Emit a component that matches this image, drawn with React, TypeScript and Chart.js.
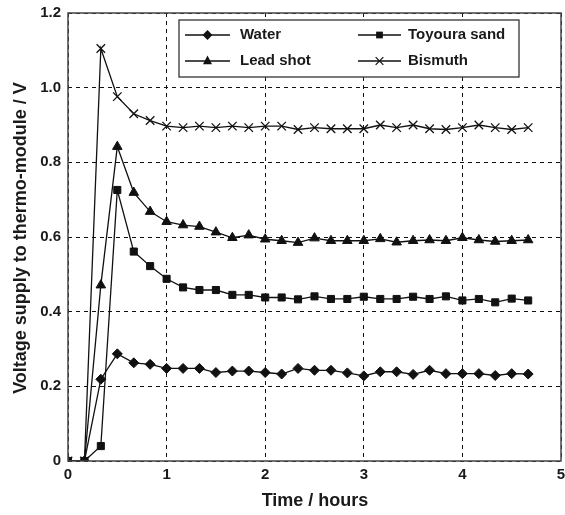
import React, { useEffect, useRef } from "react";
import { Chart, registerables } from "chart.js";
Chart.register(...registerables);

const timeHours = [0, 0.167, 0.333, 0.5, 0.667, 0.833, 1.0, 1.167, 1.333, 1.5, 1.667, 1.833, 2.0, 2.167, 2.333, 2.5, 2.667, 2.833, 3.0, 3.167, 3.333, 3.5, 3.667, 3.833, 4.0, 4.167, 4.333, 4.5, 4.667];
const water = [0, 0, 0.219, 0.287, 0.263, 0.259, 0.248, 0.248, 0.248, 0.237, 0.241, 0.241, 0.237, 0.233, 0.248, 0.243, 0.243, 0.236, 0.228, 0.239, 0.239, 0.232, 0.243, 0.234, 0.234, 0.234, 0.229, 0.234, 0.233];
const toyouraSand = [0, 0, 0.04, 0.726, 0.561, 0.522, 0.488, 0.465, 0.458, 0.458, 0.445, 0.445, 0.438, 0.438, 0.433, 0.441, 0.434, 0.434, 0.44, 0.434, 0.434, 0.44, 0.434, 0.441, 0.43, 0.434, 0.425, 0.435, 0.43];
const leadShot = [0, 0, 0.471, 0.842, 0.719, 0.668, 0.641, 0.632, 0.628, 0.613, 0.598, 0.605, 0.594, 0.59, 0.585, 0.597, 0.59, 0.59, 0.59, 0.595, 0.586, 0.59, 0.592, 0.59, 0.598, 0.592, 0.588, 0.59, 0.592];
const bismuth = [0, 0, 1.105, 0.976, 0.93, 0.912, 0.897, 0.893, 0.897, 0.893, 0.897, 0.893, 0.897, 0.897, 0.888, 0.893, 0.89, 0.89, 0.89, 0.9, 0.893, 0.9, 0.89, 0.888, 0.893, 0.9, 0.893, 0.888, 0.893];

const seriesNames = ["Water", "Toyoura sand", "Lead shot", "Bismuth"];
const seriesValues = [water, toyouraSand, leadShot, bismuth];
const seriesMarkers = ["rectRot", "rect", "triangle", "crossRot"];
const seriesRadius = [5, 5, 5.5, 6];

const xTitle = "Time / hours";
const yTitle = "Voltage supply to thermo-module / V";

const FONT = "'Liberation Sans', Arial, Helvetica, sans-serif";

const noPad = (s: any) => {
  s.paddingLeft = 0;
  s.paddingRight = 0;
  s.paddingTop = 0;
  s.paddingBottom = 0;
  s.getPadding = () => ({ left: 0, right: 0, top: 0, bottom: 0 });
};

export default function App() {
  const ref = useRef<HTMLCanvasElement | null>(null);
  useEffect(() => {
    if (!ref.current) return;
    const datasets = seriesNames.map((name, i) => ({
      label: name,
      data: timeHours.map((t, j) => ({ x: t, y: seriesValues[i][j] })),
      borderColor: "#111",
      backgroundColor: "#111",
      borderWidth: 1.3,
      pointStyle: seriesMarkers[i] as any,
      pointRadius: seriesRadius[i],
      pointBorderWidth: seriesMarkers[i] === "crossRot" ? 1.3 : 1,
      pointBackgroundColor: "#111",
      pointBorderColor: "#111",
      showLine: true,
      tension: 0,
    }));

    const framePlugin = {
      id: "frameLegend",
      afterDraw(chart: any) {
        const { ctx, chartArea } = chart;
        const { left, top, right, bottom } = chartArea;
        ctx.save();
        ctx.strokeStyle = "#444";
        ctx.lineWidth = 1.5;
        ctx.setLineDash([]);
        ctx.strokeRect(left, top, right - left, bottom - top);

        // titles
        ctx.fillStyle = "#1a1a1a";
        ctx.font = `bold 18px ${FONT}`;
        ctx.textAlign = "center";
        ctx.textBaseline = "middle";
        ctx.fillText(xTitle, 315, 501);
        ctx.save();
        ctx.translate(21, 238);
        ctx.rotate(-Math.PI / 2);
        ctx.fillText(yTitle, 0, 0);
        ctx.restore();

        // legend
        const bx = 179, by = 20, bw = 340, bh = 57;
        ctx.fillStyle = "#fff";
        ctx.fillRect(bx, by, bw, bh);
        ctx.strokeStyle = "#333";
        ctx.lineWidth = 1.3;
        ctx.strokeRect(bx, by, bw, bh);
        const lineStart = [185, 358];
        const lineEnd = [230, 401];
        const textX = [240, 408];
        const rows = [35, 61];
        [0, 1, 2, 3].forEach((si, k) => {
          const c = k % 2;
          const cy = rows[Math.floor(k / 2)];
          ctx.strokeStyle = "#111";
          ctx.lineWidth = 1.3;
          ctx.beginPath();
          ctx.moveTo(lineStart[c], cy);
          ctx.lineTo(lineEnd[c], cy);
          ctx.stroke();
          drawPointHelper(ctx, { pointStyle: seriesMarkers[si], radius: seriesRadius[si] - 0.5, borderWidth: 1.2 }, (lineStart[c] + lineEnd[c]) / 2, cy);
          ctx.fillStyle = "#1a1a1a";
          ctx.font = `bold 15px ${FONT}`;
          ctx.textAlign = "left";
          ctx.textBaseline = "middle";
          ctx.fillText(seriesNames[si], textX[c], cy);
        });
        ctx.restore();
      },
    };

    const chart = new Chart(ref.current, {
      type: "scatter",
      data: { datasets: datasets as any },
      plugins: [framePlugin],
      options: {
        animation: false,
        responsive: false,
        devicePixelRatio: 1,
        layout: { autoPadding: false, padding: { top: 13, right: 4, left: 0, bottom: 0 } },
        plugins: { legend: { display: false }, tooltip: { enabled: false } },
        scales: {
          x: {
            type: "linear",
            min: 0,
            max: 5,
            ticks: {
              stepSize: 1,
              color: "#1a1a1a",
              font: { family: FONT, size: 15, weight: "bold" },
              padding: 5,
              callback: (v: any) => String(v),
            },
            grid: { color: "#111", lineWidth: 1, drawTicks: false },
            border: { display: false, dash: [4, 4] },
            afterFit: (s: any) => {
              s.height = 54;
              noPad(s);
            },
          },
          y: {
            type: "linear",
            min: 0,
            max: 1.2,
            ticks: {
              stepSize: 0.2,
              color: "#1a1a1a",
              font: { family: FONT, size: 15, weight: "bold" },
              padding: 7,
              callback: (v: any) => (Math.abs(v) < 1e-9 ? "0" : Number(v).toFixed(1)),
            },
            grid: { color: "#111", lineWidth: 1, drawTicks: false },
            border: { display: false, dash: [4, 4] },
            afterFit: (s: any) => {
              s.width = 68;
              noPad(s);
            },
          },
        },
      } as any,
    });
    return () => chart.destroy();
  }, []);

  return (
    <div style={{ position: "fixed", left: 0, top: 0, width: 565, height: 515, background: "#fff" }}>
      <canvas ref={ref} width={565} height={515} style={{ width: 565, height: 515, display: "block" }} />
    </div>
  );
}

function drawPointHelper(ctx: CanvasRenderingContext2D, opts: any, x: number, y: number) {
  const r = opts.radius;
  ctx.save();
  ctx.fillStyle = "#111";
  ctx.strokeStyle = "#111";
  ctx.lineWidth = opts.borderWidth;
  ctx.beginPath();
  switch (opts.pointStyle) {
    case "rectRot":
      ctx.moveTo(x, y - r * 1.1);
      ctx.lineTo(x + r * 1.1, y);
      ctx.lineTo(x, y + r * 1.1);
      ctx.lineTo(x - r * 1.1, y);
      ctx.closePath();
      ctx.fill();
      break;
    case "rect": {
      const s = r * 0.75;
      ctx.rect(x - s, y - s, 2 * s, 2 * s);
      ctx.fill();
      break;
    }
    case "triangle": {
      const h = r * 0.9;
      ctx.moveTo(x, y - h * 1.2);
      ctx.lineTo(x + h, y + h * 0.7);
      ctx.lineTo(x - h, y + h * 0.7);
      ctx.closePath();
      ctx.fill();
      break;
    }
    case "crossRot": {
      const d = r * 0.7;
      ctx.moveTo(x - d, y - d);
      ctx.lineTo(x + d, y + d);
      ctx.moveTo(x + d, y - d);
      ctx.lineTo(x - d, y + d);
      ctx.stroke();
      break;
    }
  }
  ctx.restore();
}
